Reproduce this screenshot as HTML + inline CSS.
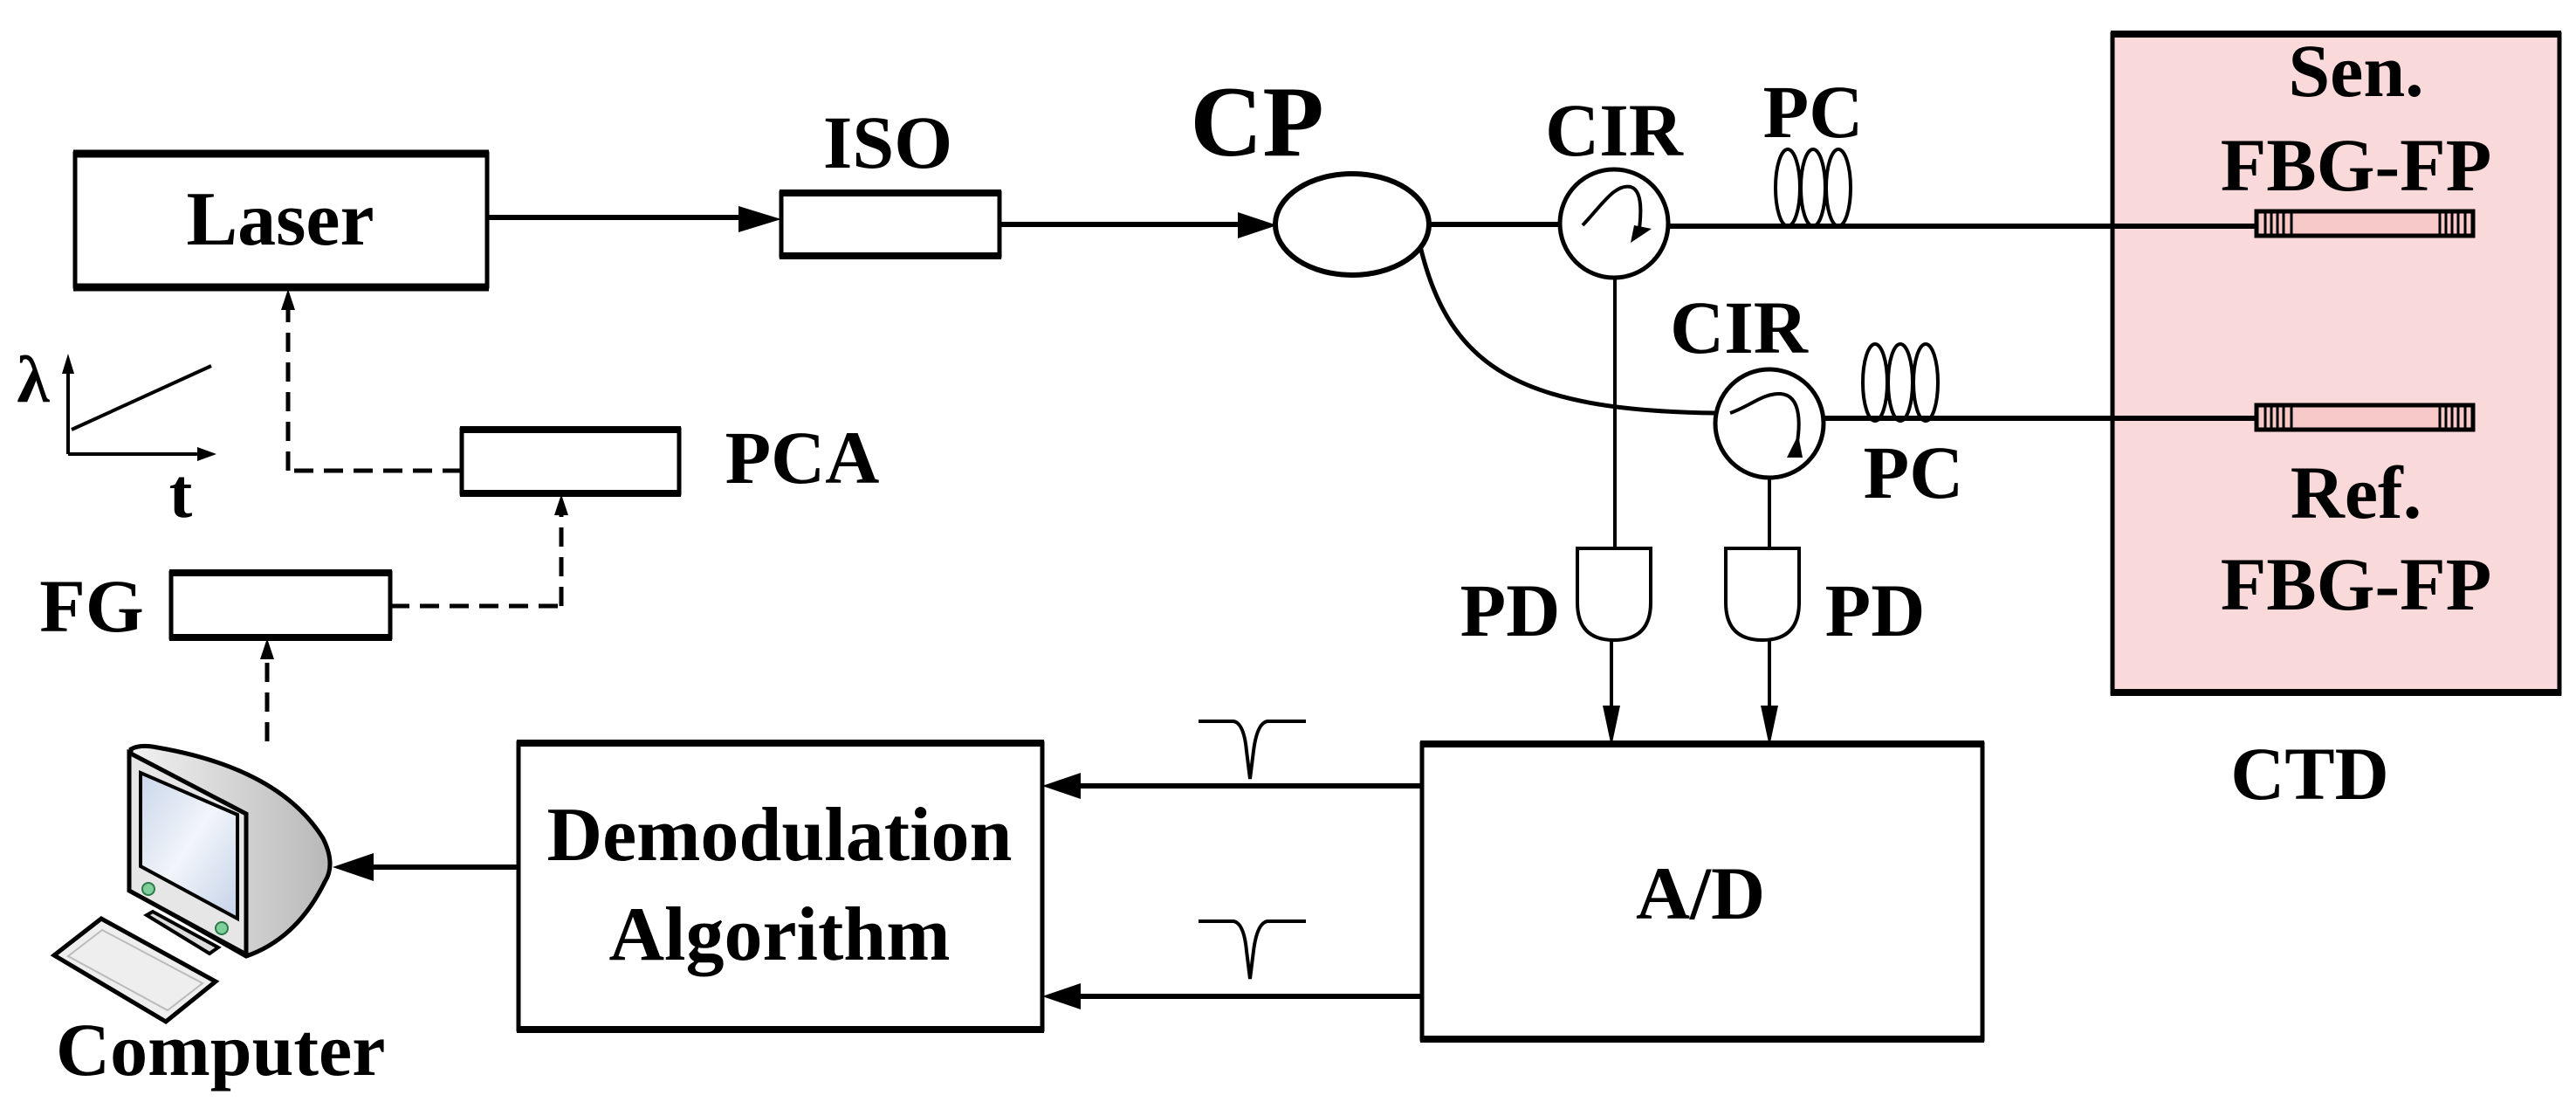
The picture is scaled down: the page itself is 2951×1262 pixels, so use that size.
<!DOCTYPE html>
<html><head><meta charset="utf-8"><style>
html,body{margin:0;padding:0;background:#fff;}
svg{display:block;}
text{font-family:"Liberation Serif",serif;font-weight:bold;fill:#000;}
</style></head><body>
<svg width="2951" height="1262" viewBox="0 0 2951 1262" xmlns="http://www.w3.org/2000/svg">
<defs>
<linearGradient id="scr" x1="0" y1="0" x2="1" y2="1"><stop offset="0" stop-color="#c9d6ea"/><stop offset="0.5" stop-color="#f2f5fa"/><stop offset="1" stop-color="#c4d2e8"/></linearGradient>
<linearGradient id="bod" x1="0" y1="0" x2="1" y2="0"><stop offset="0" stop-color="#f2f2f2"/><stop offset="1" stop-color="#b8b8b8"/></linearGradient>
</defs>

<!-- CTD box -->
<rect x="2420" y="39" width="512" height="755" fill="#f9d9d9" stroke="#000" stroke-width="5"/>
<line x1="2418" y1="39" x2="2934" y2="39" stroke="#000" stroke-width="8"/>
<line x1="2418" y1="793" x2="2934" y2="793" stroke="#000" stroke-width="8"/>

<!-- Laser -->
<rect x="86" y="176" width="472" height="152" fill="#fff" stroke="#000" stroke-width="5"/>
<line x1="84" y1="176" x2="560" y2="176" stroke="#000" stroke-width="9"/>
<line x1="84" y1="329" x2="560" y2="329" stroke="#000" stroke-width="9"/>
<text x="321" y="280" font-size="88" text-anchor="middle">Laser</text>

<!-- Laser -> ISO -->
<line x1="558" y1="249" x2="870" y2="249" stroke="#000" stroke-width="6"/>
<polygon points="895,251 846,236 846,266" fill="#000"/>

<!-- ISO -->
<rect x="895" y="221" width="250" height="72" fill="#fff" stroke="#000" stroke-width="5"/>
<line x1="893" y1="221" x2="1147" y2="221" stroke="#000" stroke-width="8"/>
<line x1="893" y1="293" x2="1147" y2="293" stroke="#000" stroke-width="8"/>
<text x="1017" y="192" font-size="86" text-anchor="middle">ISO</text>

<!-- ISO -> CP -->
<line x1="1145" y1="257" x2="1440" y2="257" stroke="#000" stroke-width="6"/>
<polygon points="1463,258 1418,243 1418,273" fill="#000"/>

<!-- CP -->
<ellipse cx="1549" cy="257" rx="88" ry="58" fill="#fff" stroke="#000" stroke-width="6"/>
<text x="1440" y="178" font-size="115" text-anchor="middle">CP</text>
<line x1="1637" y1="257" x2="1786" y2="257" stroke="#000" stroke-width="6"/>
<path d="M1627,282 C1660,420 1740,470 1964,473" fill="none" stroke="#000" stroke-width="5"/>

<!-- CIR1 -->
<circle cx="1849" cy="256" r="62" fill="#fff" stroke="#000" stroke-width="5"/>
<path d="M1813,258 C1835,235 1850,210 1868,214 C1882,218 1880,245 1878,262" fill="none" stroke="#000" stroke-width="4"/>
<polygon points="1868,278 1892,262 1872,258" fill="#000"/>
<text x="1849" y="178" font-size="86" text-anchor="middle">CIR</text>
<line x1="1911" y1="259" x2="2585" y2="259" stroke="#000" stroke-width="6"/>

<!-- PC1 coils -->
<ellipse cx="2048" cy="215" rx="14" ry="44" fill="none" stroke="#000" stroke-width="4"/>
<ellipse cx="2077" cy="215" rx="14" ry="44" fill="none" stroke="#000" stroke-width="4"/>
<ellipse cx="2106" cy="215" rx="14" ry="44" fill="none" stroke="#000" stroke-width="4"/>
<text x="2077" y="157" font-size="86" text-anchor="middle">PC</text>

<!-- CIR2 -->
<circle cx="2027" cy="485" r="62" fill="#fff" stroke="#000" stroke-width="5"/>
<path d="M1982,473 C2005,465 2020,450 2040,451 C2065,453 2062,490 2058,512" fill="none" stroke="#000" stroke-width="4"/>
<polygon points="2047,524 2065,524 2060,498" fill="#000"/>
<text x="1992" y="404" font-size="86" text-anchor="middle">CIR</text>
<line x1="2089" y1="479" x2="2585" y2="479" stroke="#000" stroke-width="6"/>

<!-- PC2 coils -->
<ellipse cx="2148" cy="438" rx="14" ry="44" fill="none" stroke="#000" stroke-width="4"/>
<ellipse cx="2177" cy="438" rx="14" ry="44" fill="none" stroke="#000" stroke-width="4"/>
<ellipse cx="2206" cy="438" rx="14" ry="44" fill="none" stroke="#000" stroke-width="4"/>
<text x="2192" y="570" font-size="86" text-anchor="middle">PC</text>

<!-- FBGs -->
<g stroke="#000" stroke-width="3">
<rect x="2585" y="242" width="248" height="28" fill="#f7c9c9" stroke-width="5"/>
<line x1="2595" y1="242" x2="2595" y2="270"/><line x1="2602" y1="242" x2="2602" y2="270"/><line x1="2609" y1="242" x2="2609" y2="270"/><line x1="2616" y1="242" x2="2616" y2="270"/><line x1="2625" y1="242" x2="2625" y2="270"/>
<line x1="2795" y1="242" x2="2795" y2="270"/><line x1="2802" y1="242" x2="2802" y2="270"/><line x1="2809" y1="242" x2="2809" y2="270"/><line x1="2816" y1="242" x2="2816" y2="270"/><line x1="2824" y1="242" x2="2824" y2="270"/>
<rect x="2585" y="464" width="248" height="28" fill="#f7c9c9" stroke-width="5"/>
<line x1="2595" y1="464" x2="2595" y2="492"/><line x1="2602" y1="464" x2="2602" y2="492"/><line x1="2609" y1="464" x2="2609" y2="492"/><line x1="2616" y1="464" x2="2616" y2="492"/><line x1="2625" y1="464" x2="2625" y2="492"/>
<line x1="2795" y1="464" x2="2795" y2="492"/><line x1="2802" y1="464" x2="2802" y2="492"/><line x1="2809" y1="464" x2="2809" y2="492"/><line x1="2816" y1="464" x2="2816" y2="492"/><line x1="2824" y1="464" x2="2824" y2="492"/>
</g>
<text x="2699" y="110" font-size="86" text-anchor="middle">Sen.</text>
<text x="2699" y="218" font-size="86" text-anchor="middle">FBG-FP</text>
<text x="2699" y="593" font-size="86" text-anchor="middle">Ref.</text>
<text x="2699" y="698" font-size="86" text-anchor="middle">FBG-FP</text>
<text x="2646" y="915" font-size="86" text-anchor="middle">CTD</text>

<!-- verticals to PD -->
<line x1="1850" y1="318" x2="1850" y2="628" stroke="#000" stroke-width="4"/>
<line x1="2027" y1="547" x2="2027" y2="628" stroke="#000" stroke-width="4"/>

<!-- PDs -->
<path d="M1807,628 L1891,628 L1891,690 Q1891,733 1849,733 Q1807,733 1807,690 Z" fill="#fff" stroke="#000" stroke-width="4"/>
<path d="M1977,628 L2061,628 L2061,690 Q2061,733 2019,733 Q1977,733 1977,690 Z" fill="#fff" stroke="#000" stroke-width="4"/>
<text x="1730" y="728" font-size="86" text-anchor="middle">PD</text>
<text x="2148" y="728" font-size="86" text-anchor="middle">PD</text>

<!-- PD -> A/D -->
<line x1="1846" y1="733" x2="1846" y2="820" stroke="#000" stroke-width="4"/>
<polygon points="1846,855 1836,808 1856,808" fill="#000"/>
<line x1="2027" y1="733" x2="2027" y2="820" stroke="#000" stroke-width="4"/>
<polygon points="2027,855 2017,808 2037,808" fill="#000"/>

<!-- A/D -->
<rect x="1629" y="852" width="642" height="338" fill="#fff" stroke="#000" stroke-width="5"/>
<line x1="1627" y1="852" x2="2273" y2="852" stroke="#000" stroke-width="8"/>
<line x1="1627" y1="1190" x2="2273" y2="1190" stroke="#000" stroke-width="8"/>
<text x="1948" y="1052" font-size="86" text-anchor="middle">A/D</text>

<!-- A/D -> Demod -->
<line x1="1629" y1="900" x2="1220" y2="900" stroke="#000" stroke-width="6"/>
<polygon points="1194,900 1238,885 1238,915" fill="#000"/>
<line x1="1629" y1="1141" x2="1220" y2="1141" stroke="#000" stroke-width="6"/>
<polygon points="1194,1141 1238,1126 1238,1156" fill="#000"/>
<!-- dips -->
<path d="M1373,826 L1413,826 Q1425,828 1428,860 L1432,892 L1436,860 Q1440,828 1452,826 L1496,826" fill="none" stroke="#000" stroke-width="4"/>
<path d="M1373,1055 L1413,1055 Q1425,1057 1428,1089 L1432,1121 L1436,1089 Q1440,1057 1452,1055 L1496,1055" fill="none" stroke="#000" stroke-width="4"/>

<!-- Demod box -->
<rect x="594" y="851" width="600" height="328" fill="#fff" stroke="#000" stroke-width="5"/>
<line x1="592" y1="851" x2="1196" y2="851" stroke="#000" stroke-width="8"/>
<line x1="592" y1="1179" x2="1196" y2="1179" stroke="#000" stroke-width="8"/>
<text x="893" y="985" font-size="88" text-anchor="middle">Demodulation</text>
<text x="893" y="1099" font-size="88" text-anchor="middle">Algorithm</text>

<!-- Demod -> Computer -->
<line x1="594" y1="993" x2="410" y2="993" stroke="#000" stroke-width="6"/>
<polygon points="381,993 428,977 428,1009" fill="#000"/>

<!-- Computer icon -->
<path d="M150,858 Q160,852 180,856 Q320,880 370,960 Q385,990 372,1010 Q340,1075 282,1095 L150,1020 Z" fill="url(#bod)" stroke="#000" stroke-width="5"/>
<path d="M148,862 L282,932 L282,1093 L148,1020 Z" fill="#e6e6e6" stroke="#000" stroke-width="5"/>
<path d="M161,885 L272,933 L272,1052 L161,992 Z" fill="url(#scr)" stroke="#000" stroke-width="4"/>
<circle cx="170" cy="1018" r="7" fill="#7fcf9a" stroke="#2d7a4a" stroke-width="2"/>
<circle cx="254" cy="1063" r="7" fill="#7fcf9a" stroke="#2d7a4a" stroke-width="2"/>
<path d="M168,1048 L175,1044 L250,1085 L240,1092 Z" fill="#ddd" stroke="#000" stroke-width="4"/>
<path d="M62,1094 L116,1052 L247,1124 L190,1170 Z" fill="#eee" stroke="#000" stroke-width="5"/>
<path d="M78,1095 L117,1065 L232,1126 L192,1157 Z" fill="none" stroke="#bbb" stroke-width="2"/>

<text x="64" y="1231" font-size="86">Computer</text>

<!-- Dashed links -->
<g stroke="#000" stroke-width="5" fill="none" stroke-dasharray="22,12">
<line x1="306" y1="849" x2="306" y2="750"/>
<line x1="447" y1="694" x2="643" y2="694"/>
<line x1="643" y1="694" x2="643" y2="590"/>
<line x1="529" y1="539" x2="330" y2="539"/>
<line x1="330" y1="539" x2="330" y2="355"/>
</g>
<polygon points="306,731 298,755 314,755" fill="#000"/>
<polygon points="643,566 635,590 651,590" fill="#000"/>
<polygon points="330,331 322,355 338,355" fill="#000"/>

<!-- PCA -->
<rect x="529" y="492" width="249" height="73" fill="#fff" stroke="#000" stroke-width="5"/>
<line x1="527" y1="492" x2="780" y2="492" stroke="#000" stroke-width="8"/>
<line x1="527" y1="565" x2="780" y2="565" stroke="#000" stroke-width="8"/>
<text x="919" y="553" font-size="86" text-anchor="middle">PCA</text>

<!-- FG -->
<rect x="196" y="656" width="251" height="74" fill="#fff" stroke="#000" stroke-width="5"/>
<line x1="194" y1="656" x2="449" y2="656" stroke="#000" stroke-width="8"/>
<line x1="194" y1="730" x2="449" y2="730" stroke="#000" stroke-width="8"/>
<text x="105" y="723" font-size="86" text-anchor="middle">FG</text>

<!-- lambda-t axes -->
<line x1="78" y1="520" x2="78" y2="420" stroke="#000" stroke-width="4"/>
<polygon points="78,405 71,428 85,428" fill="#000"/>
<line x1="78" y1="520" x2="232" y2="520" stroke="#000" stroke-width="4"/>
<polygon points="248,520 226,512 226,528" fill="#000"/>
<line x1="82" y1="492" x2="242" y2="419" stroke="#000" stroke-width="4"/>
<text x="38" y="460" font-size="76" text-anchor="middle">λ</text>
<text x="207" y="592" font-size="80" text-anchor="middle">t</text>
</svg>
</body></html>
